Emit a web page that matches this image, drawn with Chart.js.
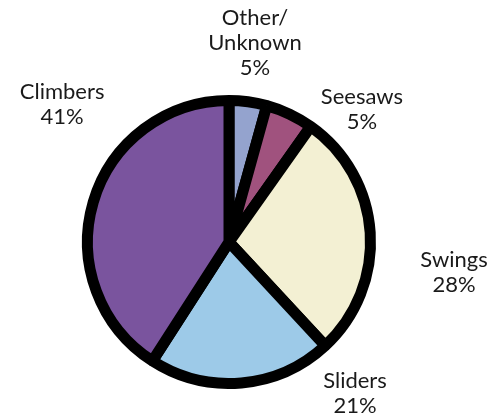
<!DOCTYPE html>
<html><head><meta charset="utf-8">
<script src="https://cdn.jsdelivr.net/npm/chart.js@4/dist/chart.umd.min.js"></script>
<style>html,body{margin:0;padding:0;background:#fff}#wrap{width:499px;height:415px}</style>
</head><body><div id="wrap"><canvas id="c" width="499" height="415"></canvas></div>
<script>
const categories = ["Other/\nUnknown", "Seesaws", "Swings", "Sliders", "Climbers"];
const shares = [4.3, 5.5, 28.3, 21.0, 40.9];
const labelTexts = ["5%", "5%", "28%", "21%", "41%"];
const colors = ["#94a3ce", "#a0527e", "#f3f0d3", "#9dcae8", "#7a549e"];

// label placement: angle shift (deg) from slice mid-angle, and distance factor of pie radius
const labelAngleShift = [-0.3, 19.8, 11.6, -34.8, 23.2];
const labelRadius = [1.365, 1.275, 1.545, 1.338, 1.473];

const BORDER = 11;

const labelPlugin = {
  id: 'outsideLabels',
  afterDatasetsDraw(chart) {
    const ctx = chart.ctx;
    const meta = chart.getDatasetMeta(0);
    ctx.save();
    ctx.font = '22px Lato, "DejaVu Sans", sans-serif';
    ctx.fillStyle = '#1a1a1a';
    ctx.textAlign = 'center';
    ctx.textBaseline = 'middle';
    meta.data.forEach((arc, i) => {
      const mid = (arc.startAngle + arc.endAngle) / 2 + labelAngleShift[i] * Math.PI / 180;
      const r = (arc.outerRadius + BORDER / 2) * labelRadius[i];
      const x = arc.x + Math.cos(mid) * r;
      const y = arc.y + Math.sin(mid) * r;
      const lines = categories[i].split("\n").concat([labelTexts[i]]);
      const lh = 25;
      const top = y - (lines.length - 1) * lh / 2;
      lines.forEach((t, k) => ctx.fillText(t, x, top + k * lh));
    });
    ctx.restore();
  }
};

new Chart(document.getElementById('c'), {
  type: 'pie',
  data: {
    labels: categories.map(c => c.replace("\n", " ")),
    datasets: [{
      data: shares,
      backgroundColor: colors,
      borderColor: '#000000',
      borderWidth: BORDER,
      hoverOffset: 0,
      offset: 0
    }]
  },
  options: {
    responsive: false,
    animation: false,
    layout: { padding: { left: 82, right: 123, top: 95, bottom: 26 } },
    plugins: { legend: { display: false }, tooltip: { enabled: false } }
  },
  plugins: [labelPlugin]
});
</script>
</body></html>
